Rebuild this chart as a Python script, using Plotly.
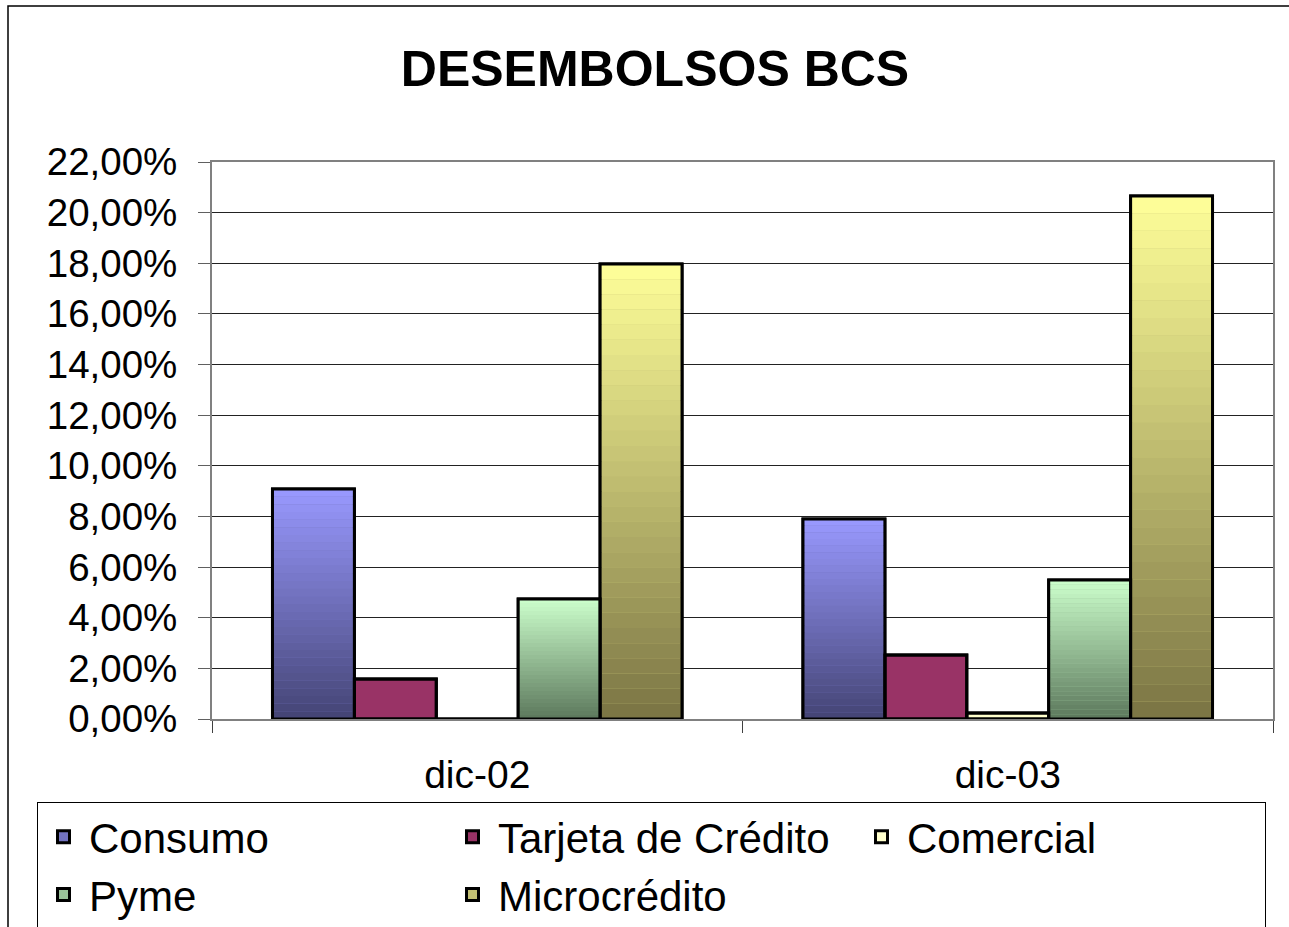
import plotly.graph_objects as go

categories = ["dic-02", "dic-03"]
series_names = ["Consumo", "Tarjeta de Crédito", "Comercial", "Pyme", "Microcrédito"]
consumo = [9.08, 7.90]
tarjeta = [1.58, 2.53]
comercial = [0.0, 0.24]
pyme = [4.74, 5.49]
microcredito = [17.97, 20.66]
y_ticks = [0, 2, 4, 6, 8, 10, 12, 14, 16, 18, 20, 22]
y_tick_labels = ["0,00%", "2,00%", "4,00%", "6,00%", "8,00%", "10,00%", "12,00%",
                 "14,00%", "16,00%", "18,00%", "20,00%", "22,00%"]

values = [consumo, tarjeta, comercial, pyme, microcredito]
# (top colour, bottom colour) of each bar's vertical gradient
grad = [
    ((153, 153, 255), (68, 68, 116)),
    ((153, 51, 102), (153, 51, 102)),
    ((255, 255, 204), (255, 255, 204)),
    ((204, 255, 204), (92, 120, 92)),
    ((255, 255, 153), (122, 116, 68)),
]
N_SEG = 30

W, H = 1289, 927
L, R, T, B = 212, 16, 162, 208
pw, ph = W - L - R, H - T - B

def rgb(c):
    return "rgb(%d,%d,%d)" % c

def mix(top, bot, f):
    return tuple(round(bot[i] + (top[i] - bot[i]) * f) for i in range(3))

fig = go.Figure()
# legend / base traces
for name, v, (top, bot) in zip(series_names, values, grad):
    fig.add_trace(go.Bar(
        x=categories, y=v, name=name, offsetgroup=name,
        marker=dict(color=rgb(mix(top, bot, 0.55)), line=dict(color="black", width=3)),
        hoverinfo="skip",
    ))
# gradient segments
for name, v, (top, bot) in zip(series_names, values, grad):
    if top == bot:
        continue
    for k in range(N_SEG):
        f = (k + 0.5) / N_SEG
        fig.add_trace(go.Bar(
            x=categories, y=[val / N_SEG for val in v], base=[val * k / N_SEG for val in v],
            offsetgroup=name, showlegend=False, hoverinfo="skip",
            marker=dict(color=rgb(mix(top, bot, f)), line=dict(width=0)),
        ))
# outlines on top
for name, v in zip(series_names, values):
    fig.add_trace(go.Bar(
        x=categories, y=v, offsetgroup=name, showlegend=False, hoverinfo="skip",
        marker=dict(color="rgba(0,0,0,0)", line=dict(color="black", width=3)),
    ))

def px_x(p):
    return (p - L) / pw

def px_y(p):
    return (H - B - p) / ph

fig.add_shape(type="rect", xref="paper", yref="paper",
              x0=px_x(8), x1=px_x(1300), y0=px_y(940), y1=px_y(6),
              line=dict(color="black", width=1.5), fillcolor="rgba(0,0,0,0)", layer="below")

fig.update_layout(
    width=W, height=H,
    margin=dict(l=L, r=R, t=T, b=B, autoexpand=False),
    paper_bgcolor="white", plot_bgcolor="white",
    barmode="group", bargap=0.228, bargroupgap=0,
    font=dict(family="Liberation Sans, Arial, sans-serif", color="black"),
    title=dict(text="<b>DESEMBOLSOS BCS</b>", font=dict(size=50, color="black"),
               x=655 / W, xanchor="center", y=1 - 68 / H, yanchor="middle",
               xref="container", yref="container"),
    showlegend=True,
    legend=dict(orientation="h", x=px_x(37), xanchor="left", y=px_y(802), yanchor="top",
                bgcolor="white", bordercolor="black", borderwidth=1,
                font=dict(size=42, color="black"), itemwidth=41,
                entrywidth=353, entrywidthmode="pixels", traceorder="normal",
                itemclick=False),
    xaxis=dict(type="category", showline=True, linecolor="#808080", linewidth=2, mirror=True,
               ticks="outside", tickson="boundaries", ticklen=12, tickcolor="#404040",
               tickfont=dict(size=39, color="black"), ticklabelstandoff=20,
               showgrid=False),
    yaxis=dict(range=[0, 22], tickvals=y_ticks, ticktext=y_tick_labels,
               showline=True, linecolor="#808080", linewidth=2, mirror=True,
               ticks="outside", ticklen=12, tickcolor="#606060",
               tickfont=dict(size=38.5, color="black"), ticklabelstandoff=13,
               showgrid=True, gridcolor="#222222", gridwidth=1, zeroline=False),
)

fig.write_html("out.html", config={"displayModeBar": False, "staticPlot": True},
               post_script="document.body.style.margin='0';document.body.style.overflow='hidden';")
